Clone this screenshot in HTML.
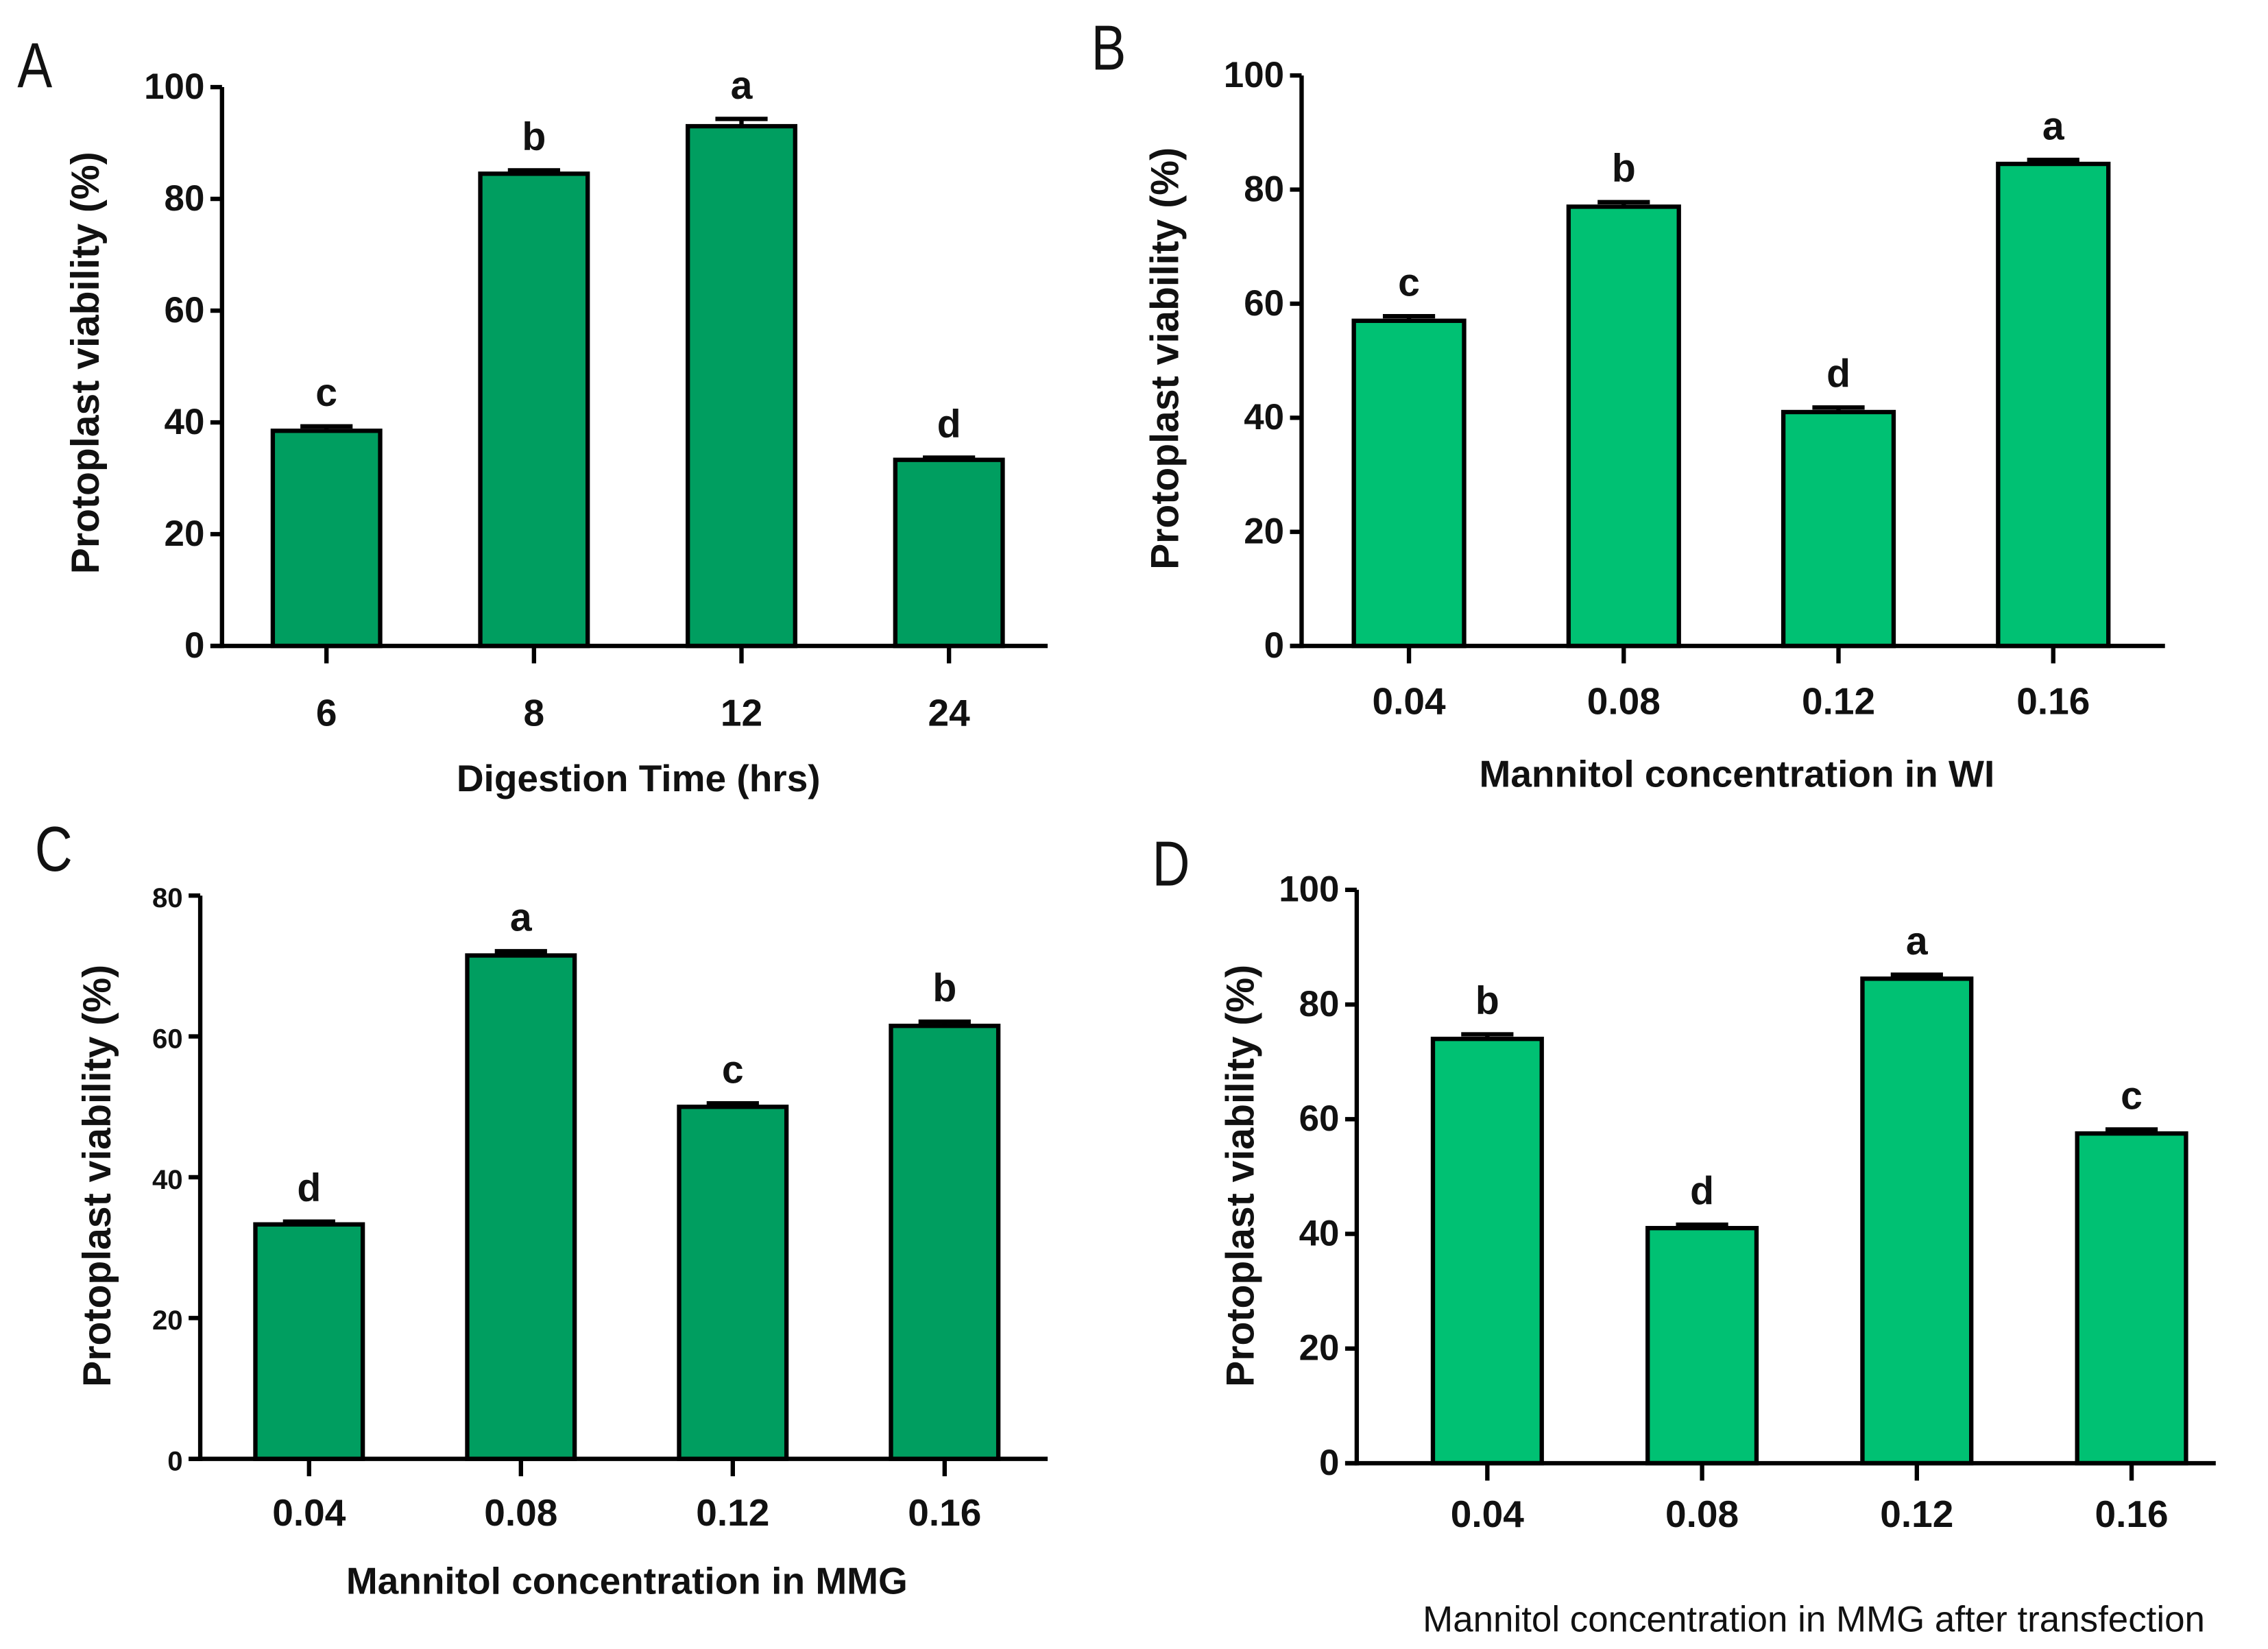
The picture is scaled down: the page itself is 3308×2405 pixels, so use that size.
<!DOCTYPE html>
<html>
<head>
<meta charset="utf-8">
<style>
  html, body { margin:0; padding:0; background:#fff; }
  svg { display:block; }
  text { font-family: "Liberation Sans", "DejaVu Sans", sans-serif; fill:#111; }
</style>
</head>
<body>
<svg id="fig" width="3308" height="2405" viewBox="0 0 1563 1136" preserveAspectRatio="none" xmlns="http://www.w3.org/2000/svg"></svg>
<script>
// ---- data ----
const catsA = ["6", "8", "12", "24"];
const valsA = [38.5, 84.5, 93, 33.3];
const errA = [0.8, 0.6, 1.3, 0.4];
const lettersA = ["c", "b", "a", "d"];
const ticksA = [0, 20, 40, 60, 80, 100];

const catsB = ["0.04", "0.08", "0.12", "0.16"];
const valsB = [57, 77, 41, 84.5];
const errB = [0.8, 0.8, 0.8, 0.7];
const lettersB = ["c", "b", "d", "a"];
const ticksB = [0, 20, 40, 60, 80, 100];

const catsC = ["0.04", "0.08", "0.12", "0.16"];
const valsC = [33.3, 71.5, 50, 61.5];
const errC = [0.4, 0.6, 0.5, 0.6];
const lettersC = ["d", "a", "c", "b"];
const ticksC = [0, 20, 40, 60, 80];

const catsD = ["0.04", "0.08", "0.12", "0.16"];
const valsD = [74, 41, 84.5, 57.5];
const errD = [0.8, 0.6, 0.7, 0.7];
const lettersD = ["b", "d", "a", "c"];
const ticksD = [0, 20, 40, 60, 80, 100];

const NS = "http://www.w3.org/2000/svg";
const svg = document.getElementById("fig");
function mk(tag, attrs, parent, txt) {
  const e = document.createElementNS(NS, tag);
  for (const k in attrs) e.setAttribute(k, attrs[k]);
  if (txt !== undefined) e.textContent = txt;
  (parent || svg).appendChild(e);
  return e;
}

function panel(p) {
  const g = mk("g", {});
  
  
  const yMax = p.ticks[p.ticks.length - 1];
  const yScale = v => p.y0 - (v / yMax) * (p.y0 - p.yTop);
  const xScale = i => p.x0 + p.firstC + i * p.step;

  const L = mk("text", {x: 0, y: 0, "font-size": 40, transform: `translate(${p.lx},${p.ly}) scale(0.9,1.1)`}, g, p.id);
  
  

  p.vals.forEach((v, i) => {
    const cx = xScale(i);
    const b = mk("rect", {x: cx - p.bw / 2, y: yScale(v), width: p.bw, height: p.y0 - yScale(v), fill: p.color, stroke: "#000", "stroke-width": 3}, g);
    
    
    const ye = yScale(v + p.err[i]);
    const eb = mk("path", {d: `M${cx} ${yScale(v)}V${ye}M${cx - 18} ${ye}H${cx + 18}`, stroke: "#000", "stroke-width": 3, fill: "none"}, g);
    
    
    const lt = mk("text", {x: cx, y: ye - 14, "font-size": 27, "font-weight": "bold", "text-anchor": "middle"}, g, p.letters[i]);
    
    
    const tk = mk("line", {x1: cx, x2: cx, y1: p.y0, y2: p.y0 + 12, stroke: "#000", "stroke-width": 3}, g);
    
    
    const tl = mk("text", {x: cx, y: p.y0 + p.xlOff, "font-size": 26, "font-weight": "bold", "text-anchor": "middle"}, g, p.cats[i]);
    
    
  });

  const ya = mk("line", {x1: p.x0, x2: p.x0, y1: p.yTop, y2: p.y0 + 1.5, stroke: "#000", "stroke-width": 3}, g);
  
  
  const xa = mk("line", {x1: p.x0 - 8, x2: p.xEnd, y1: p.y0, y2: p.y0, stroke: "#000", "stroke-width": 3}, g);
  
  
  p.ticks.forEach(t => {
    const y = yScale(t);
    const tk = mk("line", {x1: p.x0 - 8, x2: p.x0, y1: y, y2: y, stroke: "#000", "stroke-width": 3}, g);
    
    
    const tl = mk("text", {x: p.x0 - 12, y: y + 8, "font-size": p.tickFs, "font-weight": "bold", "text-anchor": "end", "font-family": p.tickFont}, g, String(t));
    
    
  });

  const yt = mk("text", {x: 0, y: 0, "font-size": 27, "font-weight": "bold", "text-anchor": "middle", transform: `translate(${p.ytX},${p.ytY}) rotate(-90)`}, g, "Protoplast viability (%)");
  
  
  const xt = mk("text", {x: p.xtX, y: p.xtY, "font-size": p.xtFs, "font-weight": p.xtW, "text-anchor": "middle"}, g, p.xTitle);
  
  
}

const dark = "#009e60", light = "#00c173";
panel({id: "A", cats: catsA, vals: valsA, err: errA, letters: lettersA, ticks: ticksA, color: dark,
  x0: 153, y0: 445, yTop: 60, xEnd: 722, firstC: 72, step: 143, bw: 74, lx: 12, ly: 60, xlOff: 55,
  tickFs: 25, tickFont: "Liberation Sans", ytX: 68, ytY: 250, xtX: 440, xtY: 545, xtFs: 26, xtW: "bold", xTitle: "Digestion Time (hrs)"});
panel({id: "B", cats: catsB, vals: valsB, err: errB, letters: lettersB, ticks: ticksB, color: light,
  x0: 897, y0: 445, yTop: 52, xEnd: 1492, firstC: 74, step: 148, bw: 76, lx: 752, ly: 48, xlOff: 47,
  tickFs: 25, tickFont: "Liberation Sans", ytX: 812, ytY: 247, xtX: 1197, xtY: 542, xtFs: 26, xtW: "bold", xTitle: "Mannitol concentration in WI"});
panel({id: "C", cats: catsC, vals: valsC, err: errC, letters: lettersC, ticks: ticksC, color: dark,
  x0: 138, y0: 1005, yTop: 617, xEnd: 722, firstC: 75, step: 146, bw: 74, lx: 24, ly: 600, xlOff: 46,
  tickFs: 19, tickFont: "Liberation Serif", ytX: 76, ytY: 810, xtX: 432, xtY: 1098, xtFs: 26, xtW: "bold", xTitle: "Mannitol concentration in MMG"});
panel({id: "D", cats: catsD, vals: valsD, err: errD, letters: lettersD, ticks: ticksD, color: light,
  x0: 935, y0: 1008, yTop: 613, xEnd: 1527, firstC: 90, step: 148, bw: 75, lx: 794, ly: 610, xlOff: 44,
  tickFs: 25, tickFont: "Liberation Sans", ytX: 864, ytY: 810, xtX: 1250, xtY: 1124, xtFs: 25, xtW: "normal", xTitle: "Mannitol concentration in MMG after transfection"});
</script>
</body>
</html>
